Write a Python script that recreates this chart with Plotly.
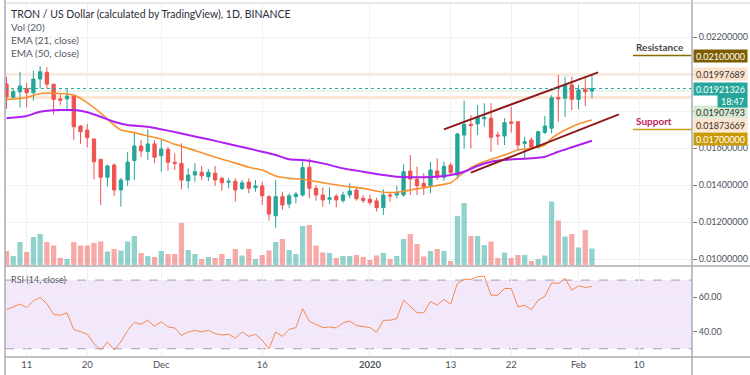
import plotly.graph_objects as go
import pandas as pd

# ---------------- data ----------------
dates = pd.date_range("2019-11-08", "2020-02-03", freq="D")

opens = [0.01946,0.01874,0.01904,0.01922,0.01899,0.01973,0.02009,0.01945,0.01865,0.01865,
         0.01881,0.01719,0.01697,0.01649,0.01539,0.01442,0.01508,0.01373,0.01427,0.01532,
         0.01611,0.01581,0.01622,0.01558,0.01593,0.01523,0.01517,0.01423,0.01454,0.01469,
         0.01445,0.01464,0.01436,0.01415,0.01420,0.01381,0.01416,0.01385,0.01395,0.01337,
         0.01234,0.01337,0.01297,0.01337,0.01346,0.01496,0.01382,0.01346,0.01323,0.01339,
         0.01316,0.01346,0.01373,0.01328,0.01323,0.01314,0.01277,0.01346,0.01346,0.01346,
         0.01476,0.01432,0.01409,0.01396,0.01476,0.01442,0.01507,0.01454,0.01670,0.01728,
         0.01730,0.01758,0.01761,0.01670,0.01665,0.01741,0.01742,0.01625,0.01643,0.01604,
         0.01684,0.01707,0.01872,0.01869,0.01941,0.01863,0.01918,0.01908]
highs = [0.01984,0.01917,0.02012,0.01953,0.02018,0.02043,0.02036,0.01945,0.01896,0.01922,
         0.01881,0.01724,0.01730,0.01649,0.01539,0.01510,0.01517,0.01438,0.01578,0.01681,
         0.01643,0.01701,0.01643,0.01643,0.01607,0.01571,0.01625,0.01490,0.01517,0.01503,
         0.01486,0.01503,0.01445,0.01436,0.01436,0.01427,0.01436,0.01427,0.01418,0.01346,
         0.01427,0.01364,0.01355,0.01364,0.01535,0.01544,0.01400,0.01388,0.01388,0.01351,
         0.01364,0.01409,0.01388,0.01346,0.01346,0.01331,0.01377,0.01358,0.01395,0.01512,
         0.01562,0.01499,0.01464,0.01526,0.01544,0.01526,0.01521,0.01683,0.01856,0.01778,
         0.01832,0.01842,0.01842,0.01688,0.01761,0.01823,0.01742,0.01661,0.01658,0.01694,
         0.01773,0.01886,0.01995,0.01986,0.01986,0.01941,0.01986,0.01995]
lows = [0.01811,0.01863,0.01820,0.01820,0.01856,0.01922,0.01922,0.01782,0.01832,0.01809,
        0.01643,0.01622,0.01604,0.01431,0.01292,0.01392,0.01341,0.01283,0.01395,0.01427,
        0.01551,0.01535,0.01519,0.01472,0.01477,0.01481,0.01377,0.01382,0.01418,0.01427,
        0.01422,0.01395,0.01369,0.01382,0.01310,0.01373,0.01355,0.01364,0.01292,0.01207,
        0.01169,0.01265,0.01274,0.01301,0.01337,0.01328,0.01315,0.01283,0.01297,0.01279,
        0.01304,0.01328,0.01315,0.01303,0.01292,0.01256,0.01238,0.01310,0.01328,0.01337,
        0.01346,0.01346,0.01346,0.01355,0.01427,0.01423,0.01454,0.01431,0.01595,0.01598,
        0.01670,0.01715,0.01580,0.01616,0.01616,0.01683,0.01585,0.01539,0.01593,0.01598,
        0.01676,0.01679,0.01742,0.01769,0.01805,0.01809,0.01827,0.01869]
closes = [0.01876,0.01904,0.01935,0.01899,0.01973,0.02012,0.01945,0.01863,0.01858,0.01881,
          0.01715,0.01688,0.01656,0.01526,0.01442,0.01503,0.01373,0.01427,0.01524,0.01611,
          0.01584,0.01622,0.01550,0.01595,0.01523,0.01517,0.01427,0.01454,0.01472,0.01450,
          0.01469,0.01427,0.01412,0.01420,0.01373,0.01412,0.01382,0.01395,0.01342,0.01243,
          0.01337,0.01292,0.01342,0.01351,0.01494,0.01382,0.01346,0.01319,0.01331,0.01319,
          0.01346,0.01368,0.01326,0.01316,0.01306,0.01277,0.01346,0.01341,0.01355,0.01472,
          0.01432,0.01396,0.01391,0.01481,0.01442,0.01500,0.01467,0.01676,0.01728,0.01721,
          0.01766,0.01766,0.01658,0.01665,0.01737,0.01734,0.01616,0.01634,0.01604,0.01688,
          0.01719,0.01872,0.01866,0.01941,0.01863,0.01914,0.01904,0.01921]
volume = [140,90,230,130,280,310,230,195,70,60,
          230,195,195,220,235,135,160,145,235,290,
          120,90,80,140,110,110,420,150,110,60,
          80,70,110,60,160,95,160,60,100,145,
          230,260,150,110,390,400,195,125,120,70,
          90,90,100,80,50,95,120,60,90,260,
          310,210,85,140,160,140,40,490,620,290,
          290,200,235,70,125,70,100,100,40,60,
          95,635,445,285,310,175,350,165]

ema21_dates = ["2019-11-08","2019-11-11","2019-11-13","2019-11-16","2019-11-18","2019-11-20",
               "2019-11-22","2019-11-24","2019-11-25","2019-11-27","2019-11-29","2019-12-01",
               "2019-12-03","2019-12-05","2019-12-08","2019-12-11","2019-12-14","2019-12-16",
               "2019-12-18","2019-12-20","2019-12-22","2019-12-25","2019-12-28","2019-12-31",
               "2020-01-03","2020-01-05","2020-01-07","2020-01-09","2020-01-11","2020-01-13",
               "2020-01-15","2020-01-17","2020-01-19","2020-01-21","2020-01-23","2020-01-25",
               "2020-01-27","2020-01-28","2020-01-30","2020-02-01","2020-02-03"]
ema21_vals = [0.01862,0.01873,0.01895,0.01895,0.01886,0.01845,
              0.01788,0.01724,0.01697,0.01683,0.01665,0.01647,
              0.01620,0.01598,0.01562,0.01530,0.01496,0.01481,
              0.01449,0.01436,0.01431,0.01412,0.01395,0.01382,
              0.01361,0.01361,0.01373,0.01385,0.01397,0.01412,
              0.01470,0.01512,0.01539,0.01562,0.01589,0.01598,
              0.01616,0.01652,0.01697,0.01730,0.01751]

ema50_dates = ["2019-11-08","2019-11-11","2019-11-13","2019-11-16","2019-11-18","2019-11-20",
               "2019-11-22","2019-11-24","2019-11-26","2019-11-29","2019-12-02","2019-12-05",
               "2019-12-08","2019-12-11","2019-12-14","2019-12-16","2019-12-18","2019-12-20",
               "2019-12-22","2019-12-25","2019-12-28","2019-12-31","2020-01-03","2020-01-05",
               "2020-01-07","2020-01-10","2020-01-13","2020-01-15","2020-01-17","2020-01-19",
               "2020-01-21","2020-01-23","2020-01-25","2020-01-27","2020-01-29","2020-01-31",
               "2020-02-03"]
ema50_vals = [0.01761,0.01773,0.01796,0.01805,0.01805,0.01793,
              0.01769,0.01742,0.01724,0.01715,0.01694,0.01670,
              0.01647,0.01622,0.01597,0.01580,0.01562,0.01539,
              0.01535,0.01517,0.01490,0.01472,0.01454,0.01445,
              0.01442,0.01443,0.01454,0.01472,0.01503,0.01526,
              0.01535,0.01541,0.01544,0.01553,0.01580,0.01604,
              0.01639]

rsi = [52.8,54.4,56.0,54.0,57.9,59.9,56.3,50.1,49.5,50.9,
       41.1,40.0,38.4,32.9,29.4,33.9,29.4,33.9,40.7,45.4,
       44.2,46.6,43.1,45.8,42.7,42.1,37.8,39.8,40.7,39.8,
       40.7,38.8,38.0,38.4,36.2,39.8,37.2,38.4,34.9,30.0,
       39.8,37.2,41.3,42.3,53.4,46.0,44.2,42.3,42.7,42.1,
       45.0,46.2,43.5,43.1,42.3,39.6,46.6,46.6,47.6,58.3,
       54.4,51.1,50.9,57.5,55.4,58.7,56.0,68.0,70.4,70.4,
       72.0,72.3,61.2,61.2,65.1,65.1,54.4,55.4,52.8,58.3,
       60.6,68.4,68.0,71.0,64.1,66.7,65.7,66.3]

upper_trend_x = ["2020-01-12", "2020-02-03 22:00"]
upper_trend_y = [0.01701, 0.02009]
lower_trend_x = ["2020-01-16", "2020-02-07"]
lower_trend_y = [0.01467, 0.01782]

resistance_level = 0.021
support_level = 0.017
level_start = "2020-02-09 02:00"

x_tick_vals = ["2019-11-11","2019-11-20","2019-12-01","2019-12-16","2020-01-01",
               "2020-01-13","2020-01-22","2020-02-01","2020-02-10"]
x_tick_text = ["11","20","Dec","16","<b>2020</b>","13","22","Feb","10"]
price_ticks = [0.010,0.012,0.014,0.016,0.018,0.020,0.022]
price_tick_text = ["0.01000000","0.01200000","0.01400000","0.01600000","","","0.02200000"]

# ---------------- styling ----------------
UP = "#26a69a"
DN = "#ef5350"
GRID = "#eef1f6"
FONT = "Lato, Roboto, sans-serif"
TXT = "#4c525e"
x_range = ["2019-11-07 18:40", "2020-02-17 20:40"]

vol_colors = ["rgba(38,166,154,0.5)" if c >= o else "rgba(239,83,80,0.5)"
              for o, c in zip(opens, closes)]

fig = go.Figure()
fig.add_trace(go.Bar(x=dates, y=volume, marker_color=vol_colors, marker_line_width=0,
                     width=0.78 * 86400000, xaxis="x", yaxis="y3", hoverinfo="skip"))
fig.add_trace(go.Candlestick(x=dates, open=opens, high=highs, low=lows, close=closes,
                             increasing=dict(line=dict(color=UP, width=1), fillcolor=UP),
                             decreasing=dict(line=dict(color=DN, width=1), fillcolor=DN),
                             whiskerwidth=0, xaxis="x", yaxis="y"))
fig.add_trace(go.Scatter(x=ema21_dates, y=ema21_vals, mode="lines",
                         line=dict(color="#f7922f", width=1.6, shape="spline", smoothing=0.6),
                         xaxis="x", yaxis="y"))
fig.add_trace(go.Scatter(x=ema50_dates, y=ema50_vals, mode="lines",
                         line=dict(color="#b01ff2", width=2, shape="spline", smoothing=0.6),
                         xaxis="x", yaxis="y"))
for tx, ty in [(upper_trend_x, upper_trend_y), (lower_trend_x, lower_trend_y)]:
    fig.add_trace(go.Scatter(x=tx, y=ty, mode="lines", line=dict(color="#8e1b1b", width=2),
                             xaxis="x", yaxis="y"))
fig.add_trace(go.Scatter(x=dates, y=rsi, mode="lines", line=dict(color="#f5894c", width=1),
                         xaxis="x", yaxis="y2"))

shapes = []
# horizontal price lines
shapes.append(dict(type="line", xref="paper", x0=0, x1=1, yref="y", y0=0.01997689, y1=0.01997689,
                   line=dict(color="rgba(250,200,160,0.45)", width=3), layer="between"))
shapes.append(dict(type="line", xref="paper", x0=0, x1=1, yref="y", y0=0.01873669, y1=0.01873669,
                   line=dict(color="rgba(250,200,160,0.45)", width=3), layer="between"))
shapes.append(dict(type="line", xref="paper", x0=0, x1=1, yref="y", y0=0.01907493, y1=0.01907493,
                   line=dict(color="rgba(190,225,190,0.35)", width=2), layer="between"))
shapes.append(dict(type="line", xref="paper", x0=0, x1=1, yref="y", y0=0.01921326, y1=0.01921326,
                   line=dict(color=UP, width=1, dash="dot"), layer="above"))
# resistance / support
shapes.append(dict(type="line", xref="x", x0=level_start, x1=x_range[1], yref="y",
                   y0=resistance_level, y1=resistance_level, line=dict(color="#8a6b00", width=1.5)))
shapes.append(dict(type="line", xref="x", x0=level_start, x1=x_range[1], yref="y",
                   y0=support_level, y1=support_level, line=dict(color="#c9a01a", width=1.5)))
# RSI band
shapes.append(dict(type="rect", xref="paper", x0=0, x1=1, yref="y2", y0=30, y1=70,
                   fillcolor="#f3e7fc", line=dict(width=0), layer="below"))
for lv in (30, 70):
    shapes.append(dict(type="line", xref="paper", x0=0, x1=1, yref="y2", y0=lv, y1=lv,
                       line=dict(color="#a39fb0", width=1, dash="dash"), layer="between"))
# frame & separators
PW, PH = 687.0, 354.0
sep_y = 91.0 / PH
shapes.append(dict(type="line", xref="paper", yref="paper", x0=0, x1=745 / PW, y0=sep_y, y1=sep_y,
                   line=dict(color="#a8abb3", width=1.5)))
shapes.append(dict(type="line", xref="paper", yref="paper", x0=0, x1=745 / PW, y0=0, y1=0,
                   line=dict(color="#a8abb3", width=1.5)))
shapes.append(dict(type="line", xref="paper", yref="paper", x0=1, x1=1, y0=-18 / PH, y1=1.01,
                   line=dict(color="#a8abb3", width=1.5)))
shapes.append(dict(type="line", xref="paper", yref="paper", x0=0, x1=0, y0=-18 / PH, y1=1.01,
                   line=dict(color="#a8abb3", width=1.5)))
shapes.append(dict(type="line", xref="paper", yref="paper", x0=0, x1=745 / PW, y0=1.0, y1=1.0,
                   line=dict(color="#d0d3da", width=1)))

ann = []
legend_lines = [("TRON / US Dollar (calculated by TradingView), 1D, BINANCE", 11, "#2a2e39", 10.5),
                ("Vol (20)", 24, "#555a66", 10),
                ("EMA (21, close)", 37, "#555a66", 10),
                ("EMA (50, close)", 50, "#555a66", 10)]
for text, dy, col, fs in legend_lines:
    ann.append(dict(text=text, xref="paper", yref="paper", x=0, y=1, xanchor="left", yanchor="middle",
                    xshift=4, yshift=-dy, showarrow=False, font=dict(family=FONT, size=fs, color=col)))
ann.append(dict(text="RSI (14, close)", xref="paper", yref="paper", x=0, y=sep_y, xanchor="left",
                yanchor="middle", xshift=4, yshift=-13, showarrow=False,
                font=dict(family=FONT, size=9, color="#555a66")))
ann.append(dict(text="<b>Resistance</b>", xref="x", x=level_start, yref="y", y=resistance_level,
                xanchor="left", yanchor="bottom", xshift=1, yshift=1, showarrow=False,
                font=dict(family=FONT, size=10, color="#4a4a4a")))
ann.append(dict(text="<b>Support</b>", xref="x", x=level_start, yref="y", y=support_level,
                xanchor="left", yanchor="bottom", xshift=1, yshift=1, showarrow=False,
                font=dict(family=FONT, size=10, color="#c2185b")))

label_values = [0.021, 0.01997689, 0.01921326, 0.01907493, 0.01873669, 0.017]
label_bg = ["#7d5e00", "#fde2cc", "#26a69a", "#d5ebd3", "#fde2cc", "#c99a06"]
label_fg = ["#ffffff", "#333333", "#ffffff", "#333333", "#333333", "#ffffff"]
label_shift = [0, 0, 0, -21, -28, -9]
for v, bg, fg, sh in zip(label_values, label_bg, label_fg, label_shift):
    ann.append(dict(text=f"{v:.8f}", xref="paper", x=1, yref="y", y=v, xanchor="left",
                    yanchor="middle", yshift=sh, xshift=1, showarrow=False, bgcolor=bg,
                    width=53, height=12, borderpad=0,
                    font=dict(family=FONT, size=9, color=fg)))
ann.append(dict(text="18:47", xref="paper", x=1, yref="y", y=0.01921326, xanchor="left",
                yanchor="middle", yshift=-12.5, xshift=25, showarrow=False, bgcolor="#26a69a",
                width=29, height=12, borderpad=0, font=dict(family=FONT, size=9, color="#ffffff")))

fig.update_layout(
    width=750, height=375, margin=dict(l=5, r=58, t=3, b=18),
    paper_bgcolor="white", plot_bgcolor="white", showlegend=False,
    font=dict(family=FONT, size=9, color=TXT),
    xaxis=dict(type="date", range=x_range, anchor="y2", tickvals=x_tick_vals, ticktext=x_tick_text,
               showgrid=True, gridcolor=GRID, gridwidth=1, ticks="", showline=False,
               zeroline=False, rangeslider=dict(visible=False), tickfont=dict(size=9.5, color=TXT)),
    yaxis=dict(domain=[sep_y, 1], range=[0.009622, 0.023838], side="right", anchor="x",
               tickvals=price_ticks, ticktext=price_tick_text, showgrid=True, gridcolor=GRID,
               ticks="outside", ticklen=4, tickcolor="#787b86", zeroline=False,
               tickfont=dict(size=9, color=TXT)),
    yaxis3=dict(domain=[sep_y, 1], range=[-10, 2620], overlaying="y", visible=False),
    yaxis2=dict(domain=[0, sep_y], range=[25.2, 78.2], side="right", anchor="x",
                tickvals=[40, 60], ticktext=["40.00", "60.00"], showgrid=True, gridcolor=GRID,
                ticks="outside", ticklen=4, tickcolor="#787b86", zeroline=False,
                tickfont=dict(size=9, color=TXT)),
    shapes=shapes, annotations=ann,
)

fig.write_html("out.html", config={"displayModeBar": False},
               post_script="document.body.style.margin='0';document.body.style.overflow='hidden';")
